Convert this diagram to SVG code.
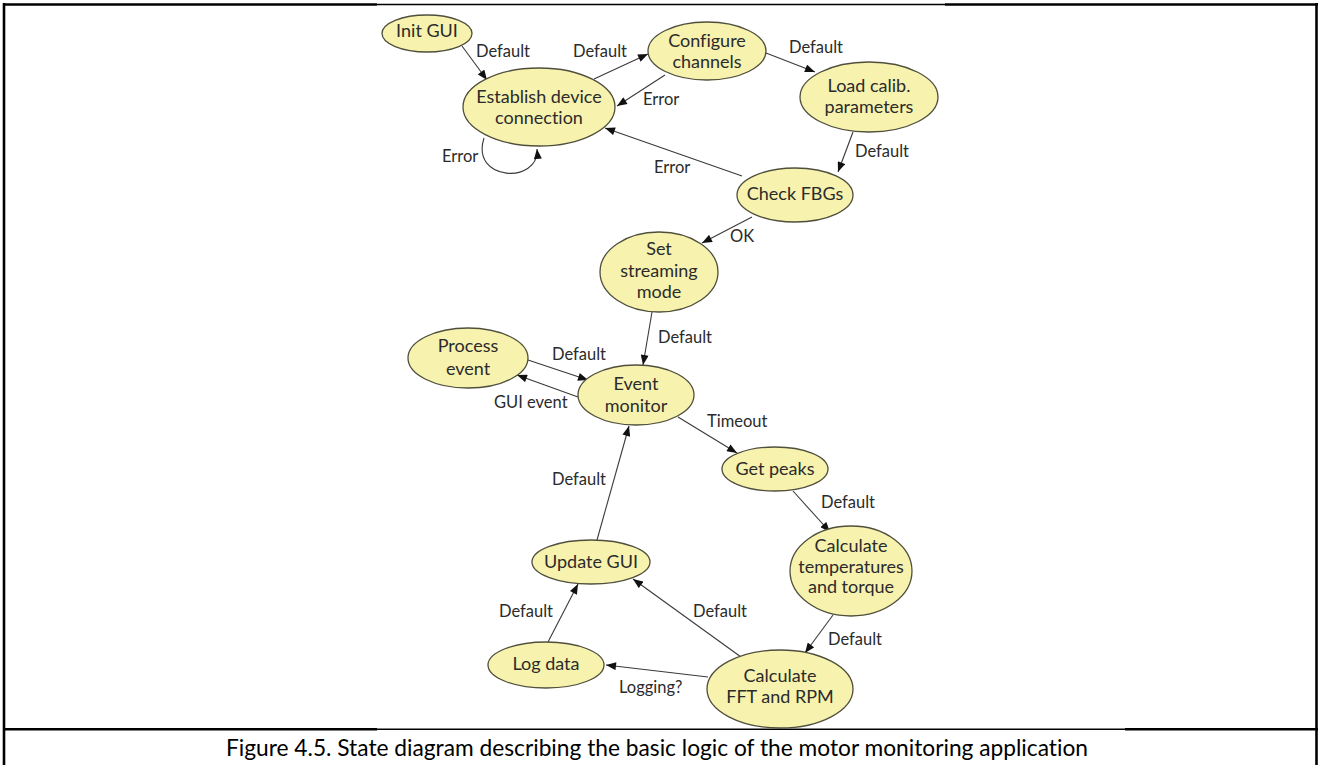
<svg xmlns="http://www.w3.org/2000/svg" width="1318" height="765" viewBox="0 0 1318 765">
<defs>
<style>
.frame{stroke:#000;stroke-width:2.6;fill:none}
.thin{stroke:#000;stroke-width:1.4;fill:none}
.node ellipse{fill:#f7f2ae;stroke:#4f4f3c;stroke-width:1.3}
.node text{font-family:Lato,"Liberation Sans",sans-serif;font-size:18px;fill:#2b2b2b;text-anchor:middle;font-variant-ligatures:none}
.edge{stroke:#3a3a3a;stroke-width:1.1;fill:none;marker-end:url(#ah)}
.lbl{font-family:Lato,"Liberation Sans",sans-serif;font-size:16.5px;fill:#2b2b2b;font-variant-ligatures:none}
.cap{font-family:Lato,"Liberation Sans",sans-serif;font-size:23px;fill:#000;text-anchor:middle;font-variant-ligatures:none}
</style>
<marker id="ah" viewBox="0 0 10 8" refX="10" refY="4" markerWidth="11" markerHeight="8" markerUnits="userSpaceOnUse" orient="auto">
<path d="M0,0 L10,4 L0,8 z" fill="#111"/>
</marker>
</defs>
<rect width="1318" height="765" fill="#fff"/>
<g id="frame">
<line class="frame" x1="4" y1="4.5" x2="377" y2="4.5"/>
<line class="thin" x1="377" y1="4.5" x2="945" y2="4.5"/>
<line class="frame" x1="945" y1="4.5" x2="1318" y2="4.5"/>
<line class="frame" x1="4" y1="3" x2="4" y2="765"/>
<line class="frame" x1="1316.5" y1="3" x2="1316.5" y2="765"/>
<line class="frame" x1="4" y1="729.3" x2="377" y2="729.3"/>
<line class="thin" x1="377" y1="729.3" x2="1125" y2="729.3"/>
<line class="frame" x1="1125" y1="729.3" x2="1318" y2="729.3"/>
</g>
<g id="connectors">
<path class="edge" d="M462,46 L487,80"/>
<path class="edge" d="M594,79 L648,54"/>
<path class="edge" d="M665,75 L617,106"/>
<path class="edge" d="M484,138 C470,182 540,184 537,149"/>
<path class="edge" d="M766,53 L815,72"/>
<path class="edge" d="M853,132 L838,172"/>
<path class="edge" d="M742,176 L605,128"/>
<path class="edge" d="M752,217 L702,243"/>
<path class="edge" d="M652,312 L643,365"/>
<path class="edge" d="M528,360 L588,380"/>
<path class="edge" d="M578,397 L517,375"/>
<path class="edge" d="M678,417 L737,453"/>
<path class="edge" d="M793,491 L830,532"/>
<path class="edge" d="M833,615 L805,653"/>
<path class="edge" d="M708,677 L606,665"/>
<path class="edge" d="M741,657 L633,579"/>
<path class="edge" d="M548,642 L578,584"/>
<path class="edge" d="M597,540 L629,426"/>
<text class="lbl" x="476" y="57">Default</text>
<text class="lbl" x="573" y="57">Default</text>
<text class="lbl" x="643" y="105">Error</text>
<text class="lbl" x="442" y="162">Error</text>
<text class="lbl" x="789" y="53">Default</text>
<text class="lbl" x="855" y="157">Default</text>
<text class="lbl" x="654" y="173">Error</text>
<text class="lbl" x="730" y="242">OK</text>
<text class="lbl" x="658" y="343">Default</text>
<text class="lbl" x="552" y="360">Default</text>
<text class="lbl" x="494" y="408">GUI event</text>
<text class="lbl" x="707" y="427">Timeout</text>
<text class="lbl" x="552" y="485">Default</text>
<text class="lbl" x="821" y="508">Default</text>
<text class="lbl" x="499" y="617">Default</text>
<text class="lbl" x="693" y="617">Default</text>
<text class="lbl" x="828" y="645">Default</text>
<text class="lbl" x="619" y="693">Logging?</text>
</g>
<g id="n-init" class="node"><ellipse cx="427" cy="33.5" rx="45" ry="18.5"/><text x="427" y="37">Init GUI</text></g>
<g id="n-establish" class="node"><ellipse cx="539" cy="107" rx="76" ry="39"/><text x="539" y="103">Establish device</text><text x="539" y="124">connection</text></g>
<g id="n-configure" class="node"><ellipse cx="707" cy="51" rx="59" ry="29"/><text x="707" y="47">Configure</text><text x="707" y="68">channels</text></g>
<g id="n-load" class="node"><ellipse cx="869" cy="97" rx="69" ry="35"/><text x="869" y="92">Load calib.</text><text x="869" y="113">parameters</text></g>
<g id="n-check" class="node"><ellipse cx="795" cy="195" rx="58" ry="27"/><text x="795" y="200">Check FBGs</text></g>
<g id="n-stream" class="node"><ellipse cx="659" cy="272" rx="59" ry="40"/><text x="659" y="255">Set</text><text x="659" y="277">streaming</text><text x="659" y="298">mode</text></g>
<g id="n-process" class="node"><ellipse cx="468" cy="358" rx="60" ry="30"/><text x="468" y="352">Process</text><text x="468" y="375">event</text></g>
<g id="n-monitor" class="node"><ellipse cx="636" cy="395" rx="58" ry="30"/><text x="636" y="390">Event</text><text x="636" y="412">monitor</text></g>
<g id="n-peaks" class="node"><ellipse cx="775" cy="469" rx="53" ry="22"/><text x="775" y="475">Get peaks</text></g>
<g id="n-temps" class="node"><ellipse cx="851" cy="571" rx="61" ry="45"/><text x="851" y="552">Calculate</text><text x="851" y="573">temperatures</text><text x="851" y="593">and torque</text></g>
<g id="n-update" class="node"><ellipse cx="591" cy="562" rx="59" ry="22"/><text x="591" y="568">Update GUI</text></g>
<g id="n-log" class="node"><ellipse cx="546" cy="665" rx="58" ry="23"/><text x="546" y="670">Log data</text></g>
<g id="n-fft" class="node"><ellipse cx="780" cy="689" rx="73" ry="39"/><text x="780" y="682">Calculate</text><text x="780" y="703">FFT and RPM</text></g>
<text class="cap" x="657" y="756" textLength="862" lengthAdjust="spacingAndGlyphs">Figure 4.5. State diagram describing the basic logic of the motor monitoring application</text>
</svg>
